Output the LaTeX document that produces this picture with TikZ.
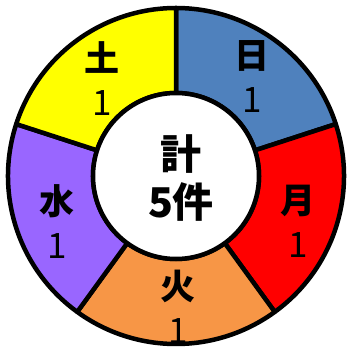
\documentclass[tikz,border=0pt]{standalone}
\usepackage{fontspec}
\newfontfamily\jpfont{Noto Sans CJK JP}
\usepackage{xcolor}
\definecolor{sunblue}{RGB}{79,129,189}
\definecolor{monred}{RGB}{255,0,0}
\definecolor{fireorange}{RGB}{247,150,70}
\definecolor{waterpurple}{RGB}{153,102,255}
\definecolor{earthyellow}{RGB}{255,255,0}

\begin{document}
\begin{tikzpicture}
	[   x=1pt,y=1pt,
	    seg/.style={draw=black,fill=#1,line width=4.5pt,line join=round},
	]
	\tikzset{day label/.style={font=\jpfont\fontsize{35}{44}\selectfont,align=center,inner sep=0pt}}
	\useasboundingbox (-176,-171) rectangle (170,176);
	\def\ri{83}
	\def\ro{168}
	
	\foreach \a/\col/\day/\x/\y [count=\i] in {90/sunblue/日/76/99, 18/monred/月/122/-45.5, -54/fireorange/火/2/-131, -126/waterpurple/水/-119/-45.5, 162/earthyellow/土/-74/97}
	{
		\draw[seg=\col] (\a:\ro) arc[start angle=\a,delta angle=-72,radius=\ro]
			-- (\a-72:\ri) arc[start angle=\a-72,delta angle=72,radius=\ri] -- cycle;
		\node[day label] (d-\i) at (\x,\y) {{\bfseries \day}\\1};
	}
	
	\draw[fill=white,line width=4.5pt] (0,0) circle[radius=\ri];
	\node[font=\jpfont\bfseries\fontsize{41}{48}\selectfont,align=center,inner sep=0pt] (t) at (5,-2.5) {計\\5件};

\end{tikzpicture}
\end{document}
